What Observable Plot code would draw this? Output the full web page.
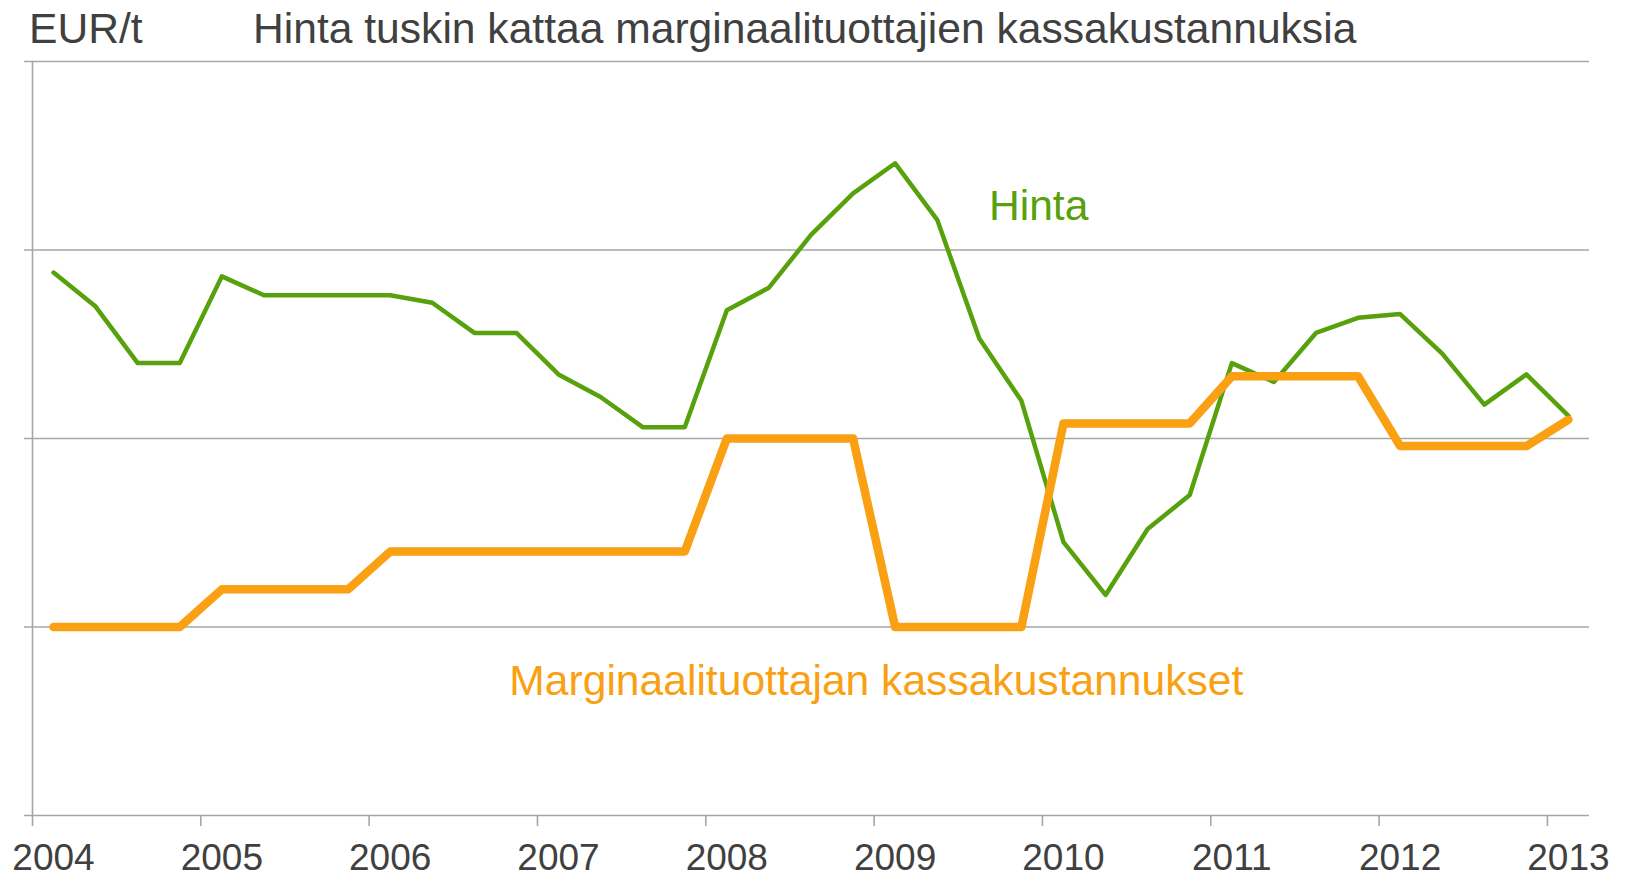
<!DOCTYPE html>
<html><head><meta charset="utf-8">
<script src="https://cdn.jsdelivr.net/npm/d3@7"></script>
<script src="https://cdn.jsdelivr.net/npm/@observablehq/plot@0.6"></script>
<style>
body{margin:0;background:#fff;font-family:"Liberation Sans",Arial,sans-serif;}
#wrap{position:relative;width:1628px;height:877px;}
#wrap svg{position:absolute;left:0;top:0;}
.hdr{position:absolute;top:7px;font-size:42.6px;line-height:42px;color:#404040;white-space:nowrap;z-index:2;}
</style></head><body>
<div id="wrap">
<div class="hdr" style="left:29px">EUR/t</div>
<div class="hdr" style="left:253px">Hinta tuskin kattaa marginaalituottajien kassakustannuksia</div>
</div>
<script>
const quarters = ["2004Q1","2004Q2","2004Q3","2004Q4","2005Q1","2005Q2","2005Q3","2005Q4",
  "2006Q1","2006Q2","2006Q3","2006Q4","2007Q1","2007Q2","2007Q3","2007Q4",
  "2008Q1","2008Q2","2008Q3","2008Q4","2009Q1","2009Q2","2009Q3","2009Q4",
  "2010Q1","2010Q2","2010Q3","2010Q4","2011Q1","2011Q2","2011Q3","2011Q4",
  "2012Q1","2012Q2","2012Q3","2012Q4","2013Q1"];
const hinta = [288,270,240,240,286,276,276,276,276,272,256,256,234,222,206,206,
  268,280,308,330,346,316,253,220,145,117,152,170,240,230,256,264,266,245,218,234,212];
const kustannukset = [100,100,100,100,120,120,120,120,140,140,140,140,140,140,140,140,
  200,200,200,200,100,100,100,100,208,208,208,208,233,233,233,233,196,196,196,196,210];
const years = [2004,2005,2006,2007,2008,2009,2010,2011,2012,2013];
const gridLines = [0,100,200,300,400];
const seriesNames = ["Hinta","Marginaalituottajan kassakustannukset"];

const green = "#57a10c", orange = "#f9a013", grid = "#a6a6a6", ink = "#404040";
const parseQ = s => +s.slice(0,4) + (+s.slice(5) - 1) * 0.25 + 0.125;
const data = quarters.map((q,i) => ({t: parseQ(q), hinta: hinta[i], kust: kustannukset[i]}));

const chart = Plot.plot({
  width: 1628, height: 877,
  marginLeft: 32, marginRight: 39, marginTop: 61, marginBottom: 62,
  style: {fontFamily: "'Liberation Sans', Arial, sans-serif", background: "transparent", color: ink},
  x: {domain: [2004, 2013.25], label: null},
  y: {domain: [0, 400], label: null},
  marks: [
    Plot.ruleY(gridLines, {stroke: grid, strokeWidth: 1.6, insetLeft: -8}),
    Plot.ruleX([2004], {stroke: grid, strokeWidth: 1.6}),
    Plot.axisX({ticks: years, tickSize: 11, tickFormat: () => "", label: null, stroke: grid, strokeWidth: 1.6}),
    Plot.axisY({ticks: [], tickSize: 0, tickFormat: () => "", label: null}),
    Plot.text(years, {x: d => d, frameAnchor: "bottom", text: d => String(d), lineAnchor: "bottom",
      dy: 54, dx: 21, fontSize: 37, fill: ink}),
    Plot.line(data, {x: "t", y: "hinta", stroke: green, strokeWidth: 4.5, strokeLinejoin: "round", strokeLinecap: "round"}),
    Plot.line(data, {x: "t", y: "kust", stroke: orange, strokeWidth: 8.5, strokeLinejoin: "round", strokeLinecap: "round"}),
    Plot.text([seriesNames[0]], {x: 2009.682, y: 316, text: d => d, textAnchor: "start", lineAnchor: "bottom",
      fill: green, fontSize: 42.6}),
    Plot.text([seriesNames[1]], {x: 2006.833, y: 64, text: d => d, textAnchor: "start", lineAnchor: "bottom",
      fill: orange, fontSize: 42.6})
  ]
});
document.getElementById("wrap").appendChild(chart);
</script>
</body></html>
